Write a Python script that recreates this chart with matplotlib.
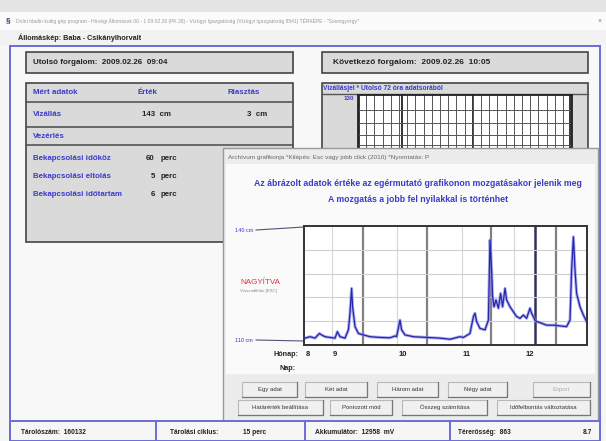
import matplotlib.pyplot as plt
import matplotlib.patches as patches
import numpy as np

plt.rcParams['font.family'] = ['Liberation Sans', 'DejaVu Sans']

# archived water level (cm) over time (days from start of the window)
days = [0.5, 3, 5.5, 7.7, 8.8, 10.5, 13, 15.5, 16.7, 18, 20.5, 22.2, 23, 23.8, 24.3,
        25.5, 27.2, 29.7, 33, 38, 43, 45.5, 46.3, 48, 48.8, 50.5, 54.7, 61.3, 68,
        73, 78, 79.7, 83, 84.7, 85.5, 86.3, 88, 90.5, 92.2, 93, 93.8, 94.3, 95, 96,
        97.2, 98.3, 99.3, 100.5, 101.3, 103, 104.7, 106.3, 108, 109.7, 111.3, 113,
        113.8, 115.5, 116.3, 118, 121.3, 124.7, 128, 131.3, 133, 133.8, 134.7,
        135.5, 136.3, 138, 139.7, 141.3]
level = [109.9, 110.3, 109.9, 111.2, 110.8, 110.3, 110.1, 109.9, 111.7, 110.3, 109.9,
         112.2, 116.8, 123.7, 118.6, 113.1, 111.2, 110.8, 110.3, 110.1, 110.0, 110.5,
         110.3, 114.9, 112.2, 110.8, 110.3, 110.1, 109.9, 109.6, 110.3, 110.1, 111.2,
         115.9, 116.8, 114.5, 112.6, 112.2, 114.9, 137.1, 128.8, 121.4, 118.6, 120.5,
         118.2, 122.3, 118.6, 123.7, 120.5, 118.6, 117.2, 115.9, 115.4, 116.3, 115.4,
         118.2, 116.8, 114.9, 114.5, 114.2, 113.5, 113.5, 113.3, 113.1, 114.9, 128.8,
         138.0, 128.8, 122.3, 118.6, 116.3, 114.5]
month_ticks = [2, 15.5, 49.5, 81.5, 113]
month_labels = ['8', '9', '10', '11', '12']
gray_lines = [29.5, 61.5, 93.5, 126]
dark_lines = [115.5]
light_lines = [13.8, 46.3, 78.8, 105]

BLUE = '#3a3acc'
W, H = 606, 441

fig = plt.figure(figsize=(W / 100, H / 100), dpi=100)
fig.patch.set_facecolor('#f6f6f6')
ui = fig.add_axes([0, 0, 1, 1])
ui.set_xlim(0, W)
ui.set_ylim(H, 0)
ui.axis('off')


def box(x, y, w, h, fc='#dadada', ec='#444444', lw=1.2, z=1):
    ui.add_patch(patches.Rectangle((x, y), w, h, facecolor=fc, edgecolor=ec, lw=lw, zorder=z))


def txt(x, y, s, size=5.7, color='#222222', bold=True, ha='left', z=5):
    ui.text(x, y, s, fontsize=size, color=color, fontweight='bold' if bold else 'normal',
            ha=ha, va='center', zorder=z)


# window frame
box(0, 0, W, 12, fc='#e4e4e4', ec='none')
box(0, 12, W, 18, fc='#fbfbfb', ec='none')
txt(6, 21, '§', size=6, color='#333366')
txt(16, 21, 'Dolní hladin kotlig gép program - Hírvégi Állomások 00 - 1 09.02.26 (PK 26) - '
    'Vízügyi Igazgatóság (Vízügyi Igazgatóság 8541) TÉRKÉPE - "Szentgyörgy"',
    size=3.6, color='#9a9a9a', bold=False)
txt(598, 21, '×', size=5, color='#777777', bold=False)
box(0, 30, W, 15, fc='#f2f2f2', ec='none')
txt(18, 38, 'Állomáskép: Baba - Csikánylhorvalt', size=5.2)
box(10, 46, 590, 395, fc='#f8f8f8', ec='#6c6cd8', lw=1.4)

# left panels
box(26, 52, 267, 21)
txt(33, 63, 'Utolsó forgalom:  2009.02.26  09:04', size=5.8)
box(26, 83, 267, 159)
for yy in [102, 127, 145]:
    ui.plot([26, 293], [yy, yy], color='#555555', lw=1.2, zorder=2)
txt(33, 92, 'Mért adatok', color=BLUE)
txt(138, 92, 'Érték', color=BLUE)
txt(227, 92, 'Riasztás', color=BLUE)
txt(33, 114, 'Vízállás', color=BLUE)
txt(142, 114, '143  cm')
txt(247, 114, '3  cm')
txt(33, 137, 'Vezérlés', color=BLUE)
txt(33, 159, 'Bekapcsolási időköz', color=BLUE)
txt(33, 177, 'Bekapcsolási eltolás', color=BLUE)
txt(33, 195, 'Bekapcsolási időtartam', color=BLUE)
for yy, v in zip([159, 177, 195], ['60', '5', '6']):
    txt(155, yy, v, ha='right')
    txt(161, yy, 'perc')

# right panels
box(322, 52, 266, 21)
txt(333, 63, 'Következő forgalom:  2009.02.26  10:05', size=6)
box(322, 83, 266, 80)
ui.plot([322, 588], [94, 94], color='#555555', lw=1.0, zorder=2)
txt(323, 88.5, 'Vízállásjel * Utolsó 72 óra adatsorából', size=4.8, color=BLUE)
txt(354, 98.5, '130', size=4.5, color=BLUE, ha='right')
bg = fig.add_axes([358 / W, 1 - 163 / H, 214 / W, 68 / H])
bg.set_facecolor('white')
bg.set_xlim(0, 214)
bg.set_ylim(0, 68)
bg.set_xticks([1, 44, 115, 212])
bg.set_xticks(np.arange(0, 214, 8.2), minor=True)
bg.set_yticks([53, 40, 28, 18])
bg.grid(True, which='major', color='#333333', lw=1.4)
bg.grid(True, which='minor', axis='x', color='#555555', lw=0.7)
bg.grid(True, which='major', axis='y', color='#555555', lw=0.7)
bg.tick_params(which='both', length=0, labelbottom=False, labelleft=False)
for s in bg.spines.values():
    s.set_color('#222222')
    s.set_linewidth(1.3)

# dialog (new overlay axes so it covers the background panels)
dlg = fig.add_axes([0, 0, 1, 1])
dlg.set_xlim(0, W)
dlg.set_ylim(H, 0)
dlg.axis('off')
dlg.add_patch(patches.Rectangle((223, 148), 375, 280, facecolor='#ececec',
                                edgecolor='#9a9a9a', lw=1))
dlg.add_patch(patches.Rectangle((226, 164), 369, 210, facecolor='#fafafa', edgecolor='none'))
dlg.text(228, 157, 'Archívum grafikonja *Kilépés: Esc vagy jobb click (2010) *Nyomtatás: P',
         fontsize=4.6, color='#666666', va='center')
dlg.text(418, 184, 'Az ábrázolt adatok értéke az egérmutató grafikonon mozgatásakor jelenik meg',
         fontsize=6.3, fontweight='bold', color=BLUE, ha='center', va='center')
dlg.text(418, 199, 'A mozgatás a jobb fel nyilakkal is történhet',
         fontsize=6.3, fontweight='bold', color=BLUE, ha='center', va='center')
dlg.text(235, 230, '140 cm', fontsize=4, color=BLUE, va='center')
dlg.plot([256, 304], [230, 227], color='#555577', lw=0.8)
dlg.text(235, 340, '110 cm', fontsize=4, color=BLUE, va='center')
dlg.plot([256, 304], [340, 341], color='#555577', lw=0.8)
dlg.text(240, 283, 'NAGYÍTVA', fontsize=5.8, color='#e03040', va='center')
dlg.text(240, 291, 'Visszaállítás [ESC]', fontsize=3.2, color='#888888', va='center')
dlg.text(298, 355, 'Hónap:', fontsize=5.2, fontweight='bold', color='#222222',
         ha='right', va='center')
dlg.text(296, 368, 'Nap:', fontsize=5.2, fontweight='bold', color='#222222',
         ha='right', va='center')

buttons = [(242, 382, 55, 'Egy adat'), (305, 382, 62, 'Két adat'), (377, 382, 61, 'Három adat'),
           (448, 382, 59, 'Négy adat'), (533, 382, 57, 'Export'),
           (238, 400, 85, 'Határérték beállítása'), (330, 400, 62, 'Pontozott mód'),
           (402, 400, 85, 'Összeg számítása'), (497, 400, 93, 'Időfelbontás változtatása')]
for bx, by, bw, label in buttons:
    dlg.add_patch(patches.Rectangle((bx, by), bw, 15, facecolor='#f0f0f0',
                                    edgecolor='#b8b8b8', lw=0.8))
    dlg.plot([bx + bw, bx + bw, bx], [by, by + 15, by + 15], color='#777777', lw=0.9)
    dlg.text(bx + bw / 2, by + 7.5, label, fontsize=4.3,
             color='#aaaaaa' if label == 'Export' else '#333333', ha='center', va='center')

# status bar
dlg.add_patch(patches.Rectangle((10, 421), 590, 20, facecolor='#f6f6f6',
                                edgecolor='#6c6cd8', lw=1.4))
for sx in [156, 305, 450]:
    dlg.plot([sx, sx], [421, 441], color='#6c6cd8', lw=1.4)
for sx, s in [(21, 'Tárolószám:  160132'), (170, 'Tárolási ciklus:'), (243, '15 perc'),
              (315, 'Akkumulátor:  12958  mV'), (458, 'Térerősség:  863')]:
    dlg.text(sx, 432, s, fontsize=4.8, fontweight='bold', color='#222222', va='center')
dlg.text(592, 432, '8.7', fontsize=4.8, fontweight='bold', color='#222222',
         ha='right', va='center')

# archive chart
ax = fig.add_axes([304 / W, 1 - 345 / H, 283 / W, 119 / H])
ax.set_facecolor('white')
ax.set_xlim(0, 141.5)
ax.set_ylim(108, 141)
for x in light_lines:
    ax.axvline(x, color='#d6d6d6', lw=0.8, zorder=1)
for x in gray_lines:
    ax.axvline(x, color='#808080', lw=1.6, zorder=1)
for x in dark_lines:
    ax.axvline(x, color='#30305a', lw=1.8, zorder=1)
for y in np.linspace(108, 141, 6)[1:-1]:
    ax.axhline(y, color='#cfcfcf', lw=0.8, zorder=1)
ax.plot(days, level, color='#8a8ae8', lw=2.2, zorder=2, alpha=0.7)
ax.plot(days, level, color='#2424b0', lw=0.9, zorder=3)
ax.set_xticks(month_ticks)
ax.set_xticklabels(month_labels, fontsize=5.5, fontweight='bold', color='#222222')
ax.set_yticks([])
ax.tick_params(axis='x', length=0, pad=4)
for s in ax.spines.values():
    s.set_color('#333333')
    s.set_linewidth(1.4)

fig.savefig('out.png', dpi=100, facecolor=fig.get_facecolor())
